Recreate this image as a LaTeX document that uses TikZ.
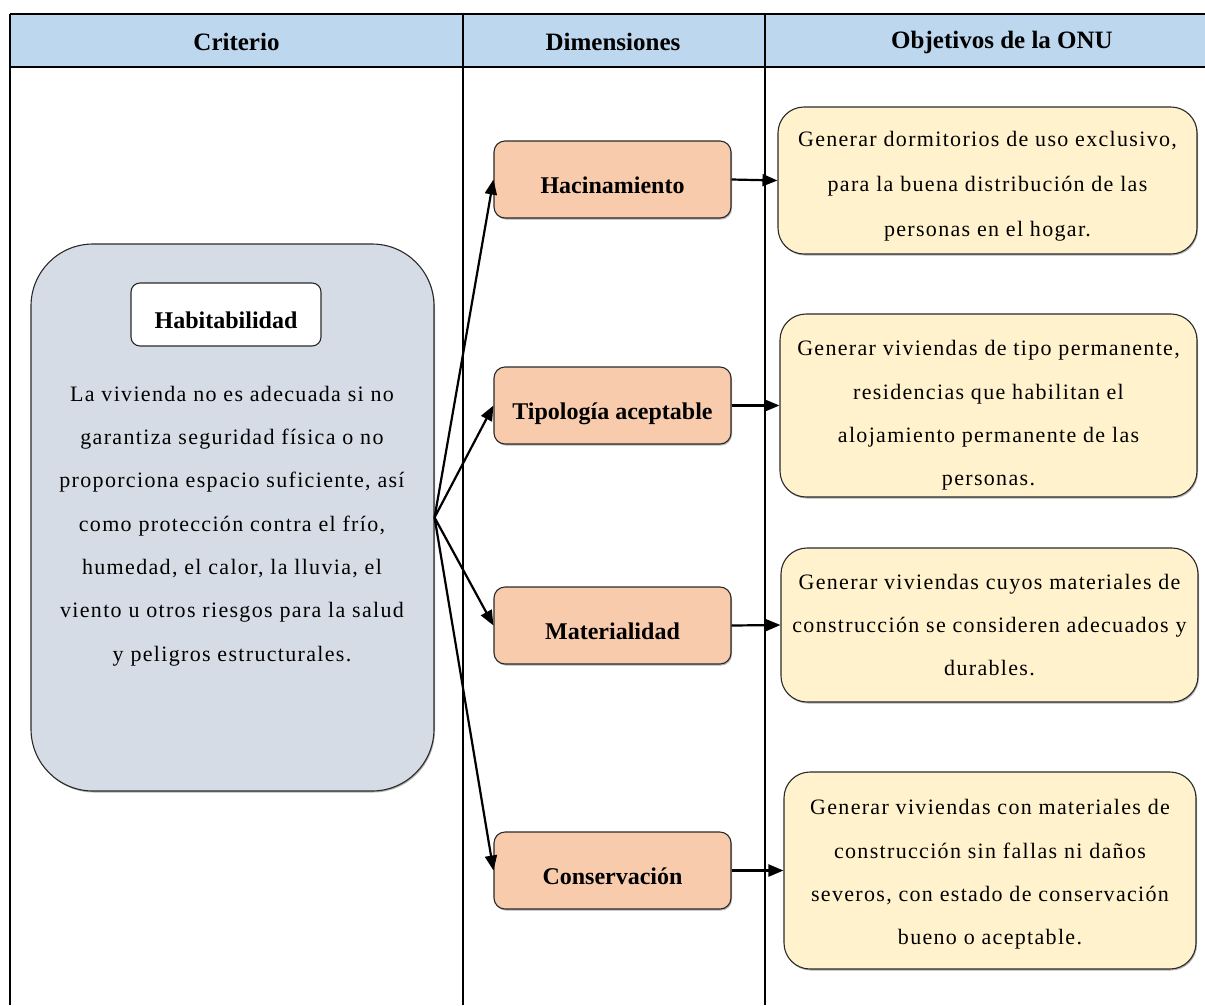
\documentclass[tikz,border=0pt]{standalone}
\usepackage{fontspec}
\setmainfont{Liberation Serif}
\newfontfamily\bodyfont{Liberation Serif}[LetterSpace=6]
\usetikzlibrary{arrows.meta,shadows}
\definecolor{hdrblue}{HTML}{BDD7EE}
\definecolor{critfill}{HTML}{D6DCE5}
\definecolor{dimfill}{HTML}{F8CBAD}
\definecolor{objfill}{HTML}{FFF2CC}
\definecolor{edge}{HTML}{2A2A2A}
\newcommand{\topstrut}[1]{\rule{0pt}{#1}}
\begin{document}
\begin{tikzpicture}[x=1pt,y=-1pt,
  gridline/.style={line width=1.8pt,black},
  hdrtext/.style={font=\fontsize{25}{30}\selectfont\bfseries,anchor=center},
  shade/.style={drop shadow={shadow xshift=1pt,shadow yshift=-1.5pt,opacity=0.3,fill=black}},
  critbox/.style={draw=edge,line width=1.1pt,fill=critfill,rounded corners=62pt,shade},
  titlebox/.style={draw=edge,line width=1.1pt,fill=white,rounded corners=9pt,
    font=\fontsize{24}{28}\selectfont\bfseries,text height=27pt,text depth=0pt},
  bodytext/.style={align=center,font=\bodyfont\fontsize{22}{43.3}\selectfont,inner sep=0pt},
  dimbox/.style={draw=edge,line width=1.1pt,fill=dimfill,rounded corners=11pt,
    minimum width=237pt,minimum height=77pt,font=\fontsize{24}{28}\selectfont\bfseries,
    text height=27pt,text depth=0pt,shade},
  objbox/.style={draw=edge,line width=1.1pt,fill=objfill,rounded corners=26pt,
    align=center,font=\bodyfont\fontsize{22}{43.3}\selectfont,inner sep=0pt,shade},
  link/.style={line width=2.2pt,black,-{Triangle[length=15pt,width=12pt]}}
]
\useasboundingbox (0,0) rectangle (1205,1005);
\fill[white] (0,0) rectangle (1205,1005);
% header band
\fill[hdrblue] (10,14) rectangle (1205,67);
\draw[gridline] (10,14) -- (1205,14);
\draw[gridline] (10,67) -- (1205,67);
\draw[gridline] (10,14) -- (10,1005);
\draw[gridline] (463,14) -- (463,1005);
\draw[gridline] (765,14) -- (765,1005);
\node[hdrtext] (h1) at (236.5,42) {Criterio};
\node[hdrtext] (h2) at (613,42) {Dimensiones};
\node[hdrtext] (h3) at (1002,42) {Objetivos de la ONU};
% criterion
\node[critbox,minimum width=403pt,minimum height=547pt] (crit) at (232.5,517.5) {};
\node[titlebox,minimum width=190pt,minimum height=63pt] (hab) at (226,314.5) {Habitabilidad};
\node[bodytext] (critdesc) at (232,526) {La vivienda no es adecuada si no\\garantiza seguridad física o no\\proporciona espacio suficiente, así\\como protección contra el frío,\\humedad, el calor, la lluvia, el\\viento u otros riesgos para la salud\\y peligros estructurales.};
% dimensions
\node[dimbox] (d1) at (612.5,179.5) {Hacinamiento};
\node[dimbox] (d2) at (612.5,405.5) {Tipología aceptable};
\node[dimbox] (d3) at (612.5,625.5) {Materialidad};
\node[dimbox] (d4) at (612.5,870.5) {Conservación};
% objectives
\node[objbox,minimum width=419pt,minimum height=147pt,font=\bodyfont\fontsize{22}{45}\selectfont] (o1) at (987.5,180.5) {\topstrut{27pt}Generar dormitorios de uso exclusivo,\\para la buena distribución de las\\personas en el hogar.};
\node[objbox,minimum width=417pt,minimum height=183pt] (o2) at (988.5,405.5) {\topstrut{35pt}Generar viviendas de tipo permanente,\\residencias que habilitan el\\alojamiento permanente de las\\personas.};
\node[objbox,minimum width=417pt,minimum height=154pt] (o3) at (989.5,625) {Generar viviendas cuyos materiales de\\construcción se consideren adecuados y\\durables.};
\node[objbox,minimum width=412pt,minimum height=197pt] (o4) at (990,870.5) {\topstrut{23pt}Generar viviendas con materiales de\\construcción sin fallas ni daños\\severos, con estado de conservación\\bueno o aceptable.};
% connectors
\foreach \d in {d1,d2,d3,d4}{\draw[link] (crit.east) -- (\d.west);}
\draw[link] (d1.east) -- (o1.west);
\draw[link] (d2.east) -- (o2.west);
\draw[link] (d3.east) -- (o3.west);
\draw[link] (d4.east) -- (o4.west);
\end{tikzpicture}
\end{document}
